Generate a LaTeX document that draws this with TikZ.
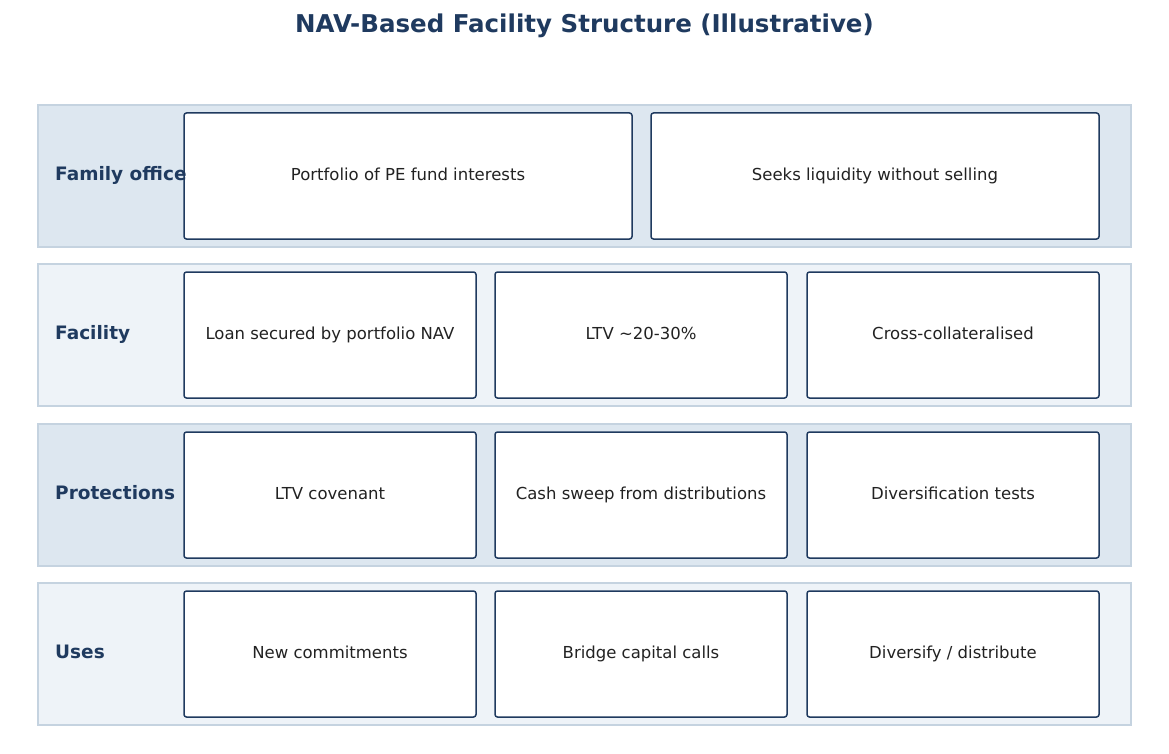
\documentclass[tikz,border=0pt]{standalone}
\usepackage{fontspec}
\setmainfont{DejaVu Sans}
\definecolor{navy}{HTML}{1F3A5F}
\definecolor{rowA}{HTML}{DDE7F0}
\definecolor{rowB}{HTML}{EEF3F8}
\definecolor{rowline}{HTML}{C5D3E0}
\definecolor{txt}{HTML}{222222}
\begin{document}
\begin{tikzpicture}[x=1pt,y=-1pt,
  row/.style={draw=rowline,line width=1.2pt},
  box/.style={draw=navy,fill=white,line width=1.5pt,rounded corners=2.5pt},
  btxt/.style={font=\fontsize{16.5}{20}\selectfont,text=txt,text height=12pt,text depth=3.5pt},
  lab/.style={font=\fontsize{18.5}{22}\selectfont\bfseries,text=navy,anchor=west,inner sep=0pt,text height=13.5pt,text depth=4pt}]
\useasboundingbox (0,0) rectangle (1169,754);
\node[font=\fontsize{24.5}{28}\selectfont\bfseries,text=navy] (title) at (584.5,26) {NAV-Based Facility Structure (Illustrative)};
\foreach \i/\y/\c in {1/105/rowA,2/264/rowB,3/424/rowA,4/583/rowB}{
  \fill[\c] (38,\y) rectangle (1131,\y+142);
  \draw[row] (38,\y) rectangle (1131,\y+142);
}
\draw[box] (184,113) rectangle (632,239); \node[btxt] (a1) at (408,176) {Portfolio of PE fund interests};
\draw[box] (651,113) rectangle (1099,239); \node[btxt] (a2) at (875,176) {Seeks liquidity without selling};
\foreach \y/\ta/\tb/\tc [count=\k] in {272/Loan secured by portfolio NAV/LTV \textasciitilde20-30\%/Cross-collateralised,
  432/LTV covenant/Cash sweep from distributions/Diversification tests,
  591/New commitments/Bridge capital calls/{Diversify / distribute}}{
  \draw[box] (184,\y) rectangle (476,\y+126); \node[btxt] (b\k a) at (330,\y+63) {\ta};
  \draw[box] (495,\y) rectangle (787,\y+126); \node[btxt] (b\k b) at (641,\y+63) {\tb};
  \draw[box] (807,\y) rectangle (1099,\y+126); \node[btxt] (b\k c) at (953,\y+63) {\tc};
}
\node[lab] (l1) at (55,176) {Family office};
\node[lab] (l2) at (55,335) {Facility};
\node[lab] (l3) at (55,494.5) {Protections};
\node[lab] (l4) at (55,654) {Uses};
\end{tikzpicture}
\end{document}
